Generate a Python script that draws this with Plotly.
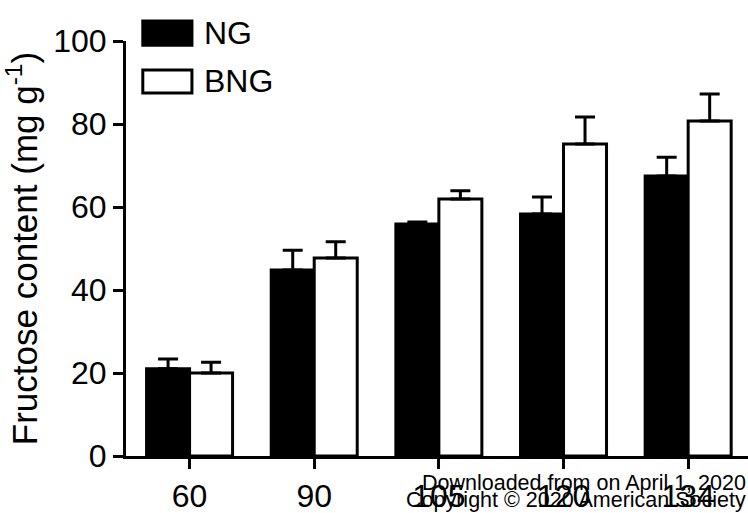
import plotly.graph_objects as go

categories = ["60", "90", "105", "120", "134"]
ng_values = [21.0, 44.8, 55.9, 58.3, 67.5]
ng_errors = [2.4, 4.8, 0.5, 4.1, 4.5]
bng_values = [20.0, 47.7, 61.9, 75.2, 80.7]
bng_errors = [2.6, 3.9, 2.0, 6.5, 6.5]
y_ticks = [0, 20, 40, 60, 80, 100]

FONT = "Liberation Sans, Arial, sans-serif"

fig = go.Figure()
fig.add_trace(go.Bar(
    x=categories, y=ng_values, name="NG",
    marker=dict(color="black", line=dict(color="black", width=3)),
    error_y=dict(type="data", array=ng_errors, arrayminus=[0]*5, symmetric=False,
                 color="black", thickness=3, width=10),
))
fig.add_trace(go.Bar(
    x=categories, y=bng_values, name="BNG",
    marker=dict(color="white", line=dict(color="black", width=3)),
    error_y=dict(type="data", array=bng_errors, arrayminus=[0]*5, symmetric=False,
                 color="black", thickness=3, width=10),
))

fig.update_layout(
    width=748, height=513,
    margin=dict(l=126, r=0, t=41, b=57, autoexpand=False),
    paper_bgcolor="white", plot_bgcolor="white",
    barmode="group", bargap=0.31, bargroupgap=0,
    showlegend=False,
    font=dict(family=FONT, color="black"),
)
fig.update_xaxes(
    type="category", range=[-0.51, 4.48],
    showline=True, linecolor="black", linewidth=3,
    ticks="outside", ticklen=10, tickwidth=3, tickcolor="black",
    tickfont=dict(size=32, family=FONT), showgrid=False, zeroline=False,
    automargin=False,
)
fig.update_yaxes(
    range=[0, 100], tickvals=y_ticks,
    showline=True, linecolor="black", linewidth=3,
    ticks="outside", ticklen=10, tickwidth=3, tickcolor="black",
    tickfont=dict(size=32, family=FONT), showgrid=False, zeroline=False,
    automargin=False,
    title=dict(text="Fructose content (mg g<sup>-1</sup>)", font=dict(size=35, family=FONT), standoff=6),
)

# legend drawn manually (large swatches)
legend_items = [("NG", "black", 0.990, 1.048, 1.019), ("BNG", "white", 0.875, 0.930, 0.904)]
for label, fill, y0, y1, ym in legend_items:
    fig.add_shape(type="rect", xref="paper", yref="paper", x0=0.027, x1=0.106, y0=y0, y1=y1,
                  fillcolor=fill, line=dict(color="black", width=3))
    fig.add_annotation(xref="paper", yref="paper", x=0.122, y=ym, text=label, showarrow=False,
                       xanchor="left", yanchor="middle", font=dict(size=32, family=FONT, color="black"))

watermark_lines = [("Downloaded from on April 1, 2020", -0.065), ("Copyright © 2020 American Society", -0.106)]
for line, yy in watermark_lines:
    fig.add_annotation(xref="paper", yref="paper", x=1.0, y=yy, xanchor="right", yanchor="middle",
                       text=line, showarrow=False,
                       font=dict(size=21.5, family=FONT, color="black"))

fig.write_html("out.html", config={"displayModeBar": False},
               post_script="document.body.style.margin='0';")
